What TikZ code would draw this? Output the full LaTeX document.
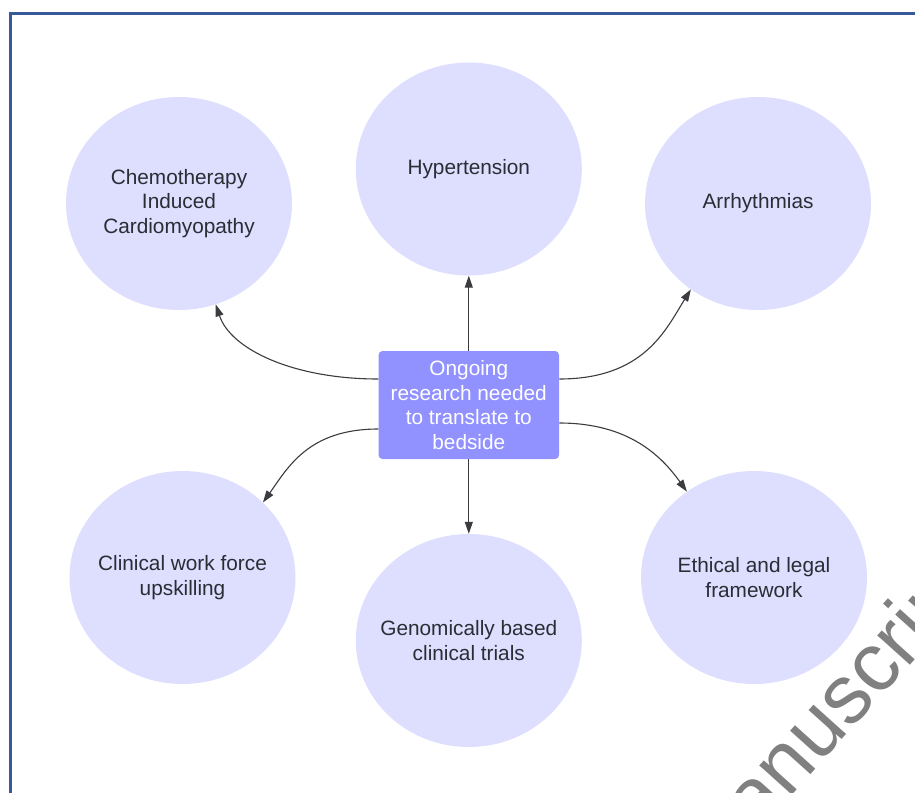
\documentclass[tikz,border=0pt]{standalone}
\usepackage{fontspec}
\setmainfont{Liberation Sans}
\usetikzlibrary{arrows.meta,shapes.geometric}
\definecolor{bubblefill}{HTML}{DEDEFF}
\definecolor{boxfill}{HTML}{9191FF}
\definecolor{inkdark}{HTML}{2A2D34}
\definecolor{framecol}{HTML}{38599A}
\definecolor{wmgray}{HTML}{808080}
\definecolor{linkcol}{HTML}{3A3C40}
\begin{document}
\begin{tikzpicture}[x=1pt,y=-1pt,
  bubble/.style={ellipse, fill=bubblefill, draw=none, minimum width=226pt, minimum height=213pt, inner sep=0pt},
  btext/.style={align=center, text=inkdark, font=\fontsize{20.8}{24.6}\selectfont, inner sep=0pt},
  hub/.style={rectangle, rounded corners=4pt, fill=boxfill, minimum width=180.5pt, minimum height=108pt, align=center, text=white, font=\fontsize{20.8}{24.6}\selectfont, inner sep=0pt},
  link/.style={draw=linkcol, line width=1.1pt, -{Triangle[length=12pt,width=8pt]}},
  framestyle/.style={draw=framecol, line width=3pt},
  wmstyle/.style={rotate=48, anchor=base west, text=wmgray, font=\fontsize{83}{83}\selectfont, inner sep=0pt}
]
\useasboundingbox (0,0) rectangle (915,792);
\clip (0,0) rectangle (915,792);
\fill[white] (0,0) rectangle (915,792);

% frame
\draw[framestyle] (10.5,900) -- (10.5,13.5) -- (1000,13.5);

% bubbles
\node[bubble] (chemo) at (179,203.5) {};
\node[bubble] (hyp) at (468.8,169) {};
\node[bubble] (arr) at (758,203.5) {};
\node[bubble] (clin) at (182.5,577.5) {};
\node[bubble] (gen) at (468.8,640.5) {};
\node[bubble] (eth) at (754,577.5) {};

\node[btext] (chemoT) at (chemo) {Chemotherapy\\Induced\\Cardiomyopathy};
\node[btext] (hypT) at (hyp) {Hypertension};
\node[btext] (arrT) at (arr) {Arrhythmias};
\node[btext] (clinT) at (clin) {Clinical work force\\upskilling};
\node[btext] (genT) at (gen) {Genomically based\\clinical trials};
\node[btext] (ethT) at (eth) {Ethical and legal\\framework};

% hub
\node[hub] (hub) at (468.8,405) {Ongoing\\research needed\\to translate to\\bedside};

% connectors
\draw[link] (hub.north) -- (hyp.south);
\draw[link] (hub.south) -- (gen.north);
\draw[link] ([yshift=26pt]hub.west) .. controls +(-85,0) and +(15,45) .. (chemo.-70);
\draw[link] ([yshift=26pt]hub.east) .. controls +(85,0) and +(-25,40) .. (arr.-128);
\draw[link] ([yshift=-24pt]hub.west) .. controls +(-70,0) and +(25,-35) .. (clin.43);
\draw[link] ([yshift=-18pt]hub.east) .. controls +(70,0) and +(-25,-35) .. (eth.128);

% watermark
\node[wmstyle] (wm) at (711.6,885.1) {Manuscript};
\end{tikzpicture}
\end{document}
